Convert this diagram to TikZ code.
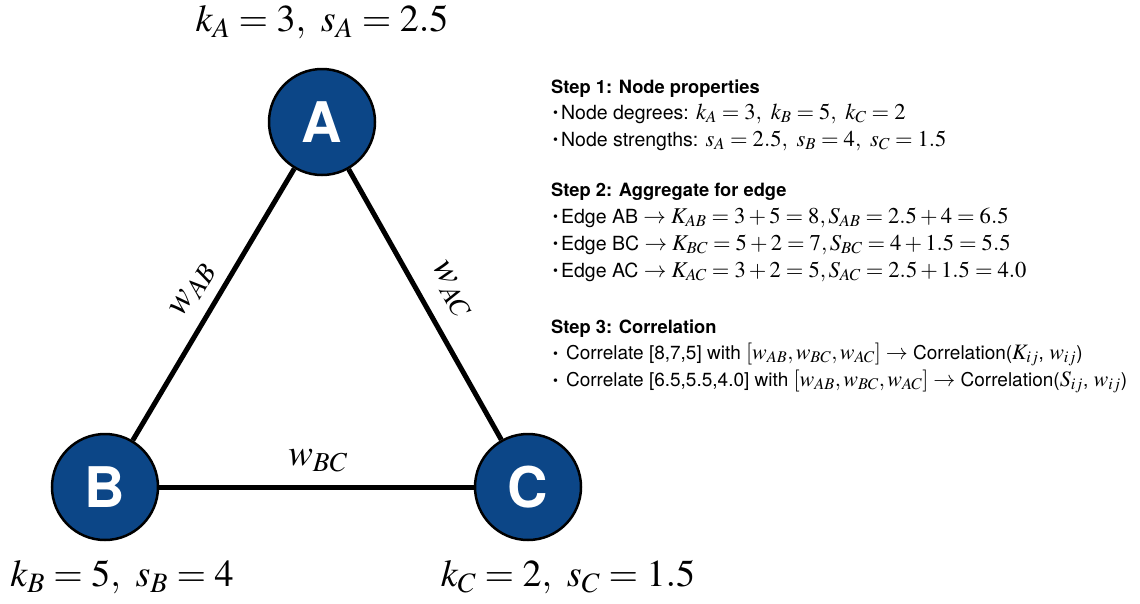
\documentclass[tikz,border=0pt]{standalone}
\usepackage{mathptmx}
\usepackage{fontspec}
\setmainfont{TeX Gyre Heros}
\definecolor{nodeblue}{RGB}{12,70,135}
\newcommand{\mm}[1]{{\fontsize{22.6}{26}\selectfont$#1$}}
\newcommand{\mmc}[1]{{\fontsize{22}{26}\selectfont$#1$}}
\newcommand{\bul}{\raisebox{0.1ex}{\fontsize{14}{16}\selectfont\textbullet}}
\begin{document}
\begin{tikzpicture}[x=1pt,y=-1pt,
  vertex/.style={circle,draw=black,line width=2.5pt,fill=nodeblue,minimum size=106pt,inner sep=0pt,text=white,font=\fontsize{56}{60}\selectfont\bfseries},
  edge/.style={line width=5pt,black},
  biglab/.style={font=\fontsize{38}{42}\selectfont},
  elab/.style={font=\fontsize{37}{40}\selectfont,inner sep=0pt},
  head/.style={anchor=base west,font=\fontsize{18.3}{21}\selectfont\bfseries,inner sep=0pt},
  item/.style={anchor=base west,font=\fontsize{19.5}{22}\selectfont,inner sep=0pt},
  itemc/.style={anchor=base west,font=\fontsize{19}{22}\selectfont,inner sep=0pt}]
\useasboundingbox (0,0) rectangle (1140,603);
\node[vertex] (A) at (322,122) {A};
\node[vertex] (B) at (105,487) {B};
\node[vertex] (C) at (528,487) {C};
\draw[edge] (A) -- (B);
\draw[edge] (A) -- (C);
\draw[edge] (B) -- (C);
\node[biglab] (la) at (322,22) {$k_A=3,\ s_A=2.5$};
\node[biglab] (lb) at (122,577) {$k_B=5,\ s_B=4$};
\node[biglab] (lc) at (568,577) {$k_C=2,\ s_C=1.5$};
\node[elab,rotate=59.3] (wab) at (193,290) {$w_{AB}$};
\node[elab,rotate=-60.6] (wac) at (451,290) {$w_{AC}$};
\node[elab] (wbc) at (318,461) {$w_{BC}$};
% Step 1
\node[head] (h1) at (551,93) {Step 1: Node properties};
\node[item] (i11) at (553,119) {\bul\hspace{3pt}Node degrees: \mm{k_A=3,\ k_B=5,\ k_C=2}};
\node[item] (i12) at (553,146) {\bul\hspace{3pt}Node strengths: \mm{s_A=2.5,\ s_B=4,\ s_C=1.5}};
% Step 2
\node[head] (h2) at (551,196) {Step 2: Aggregate for edge};
\node[item] (i21) at (553,223) {\bul\hspace{3pt}Edge AB \mm{\rightarrow K_{AB}=3+5=8, S_{AB}=2.5+4=6.5}};
\node[item] (i22) at (553,250) {\bul\hspace{3pt}Edge BC \mm{\rightarrow K_{BC}=5+2=7, S_{BC}=4+1.5=5.5}};
\node[item] (i23) at (553,277) {\bul\hspace{3pt}Edge AC \mm{\rightarrow K_{AC}=3+2=5, S_{AC}=2.5+1.5=4.0}};
% Step 3
\node[head] (h3) at (551,333) {Step 3: Correlation};
\node[itemc] (i31) at (553,359) {\bul\hspace{8pt}Correlate [8,7,5] with \mmc{[w_{AB}, w_{BC}, w_{AC}]\rightarrow} Correlation(\mmc{K_{ij}}, \mmc{w_{ij}})};
\node[itemc] (i32) at (553,386) {\bul\hspace{8pt}Correlate [6.5,5.5,4.0] with \mmc{[w_{AB}, w_{BC}, w_{AC}]\rightarrow} Correlation(\mmc{S_{ij}}, \mmc{w_{ij}})};
\end{tikzpicture}
\end{document}
